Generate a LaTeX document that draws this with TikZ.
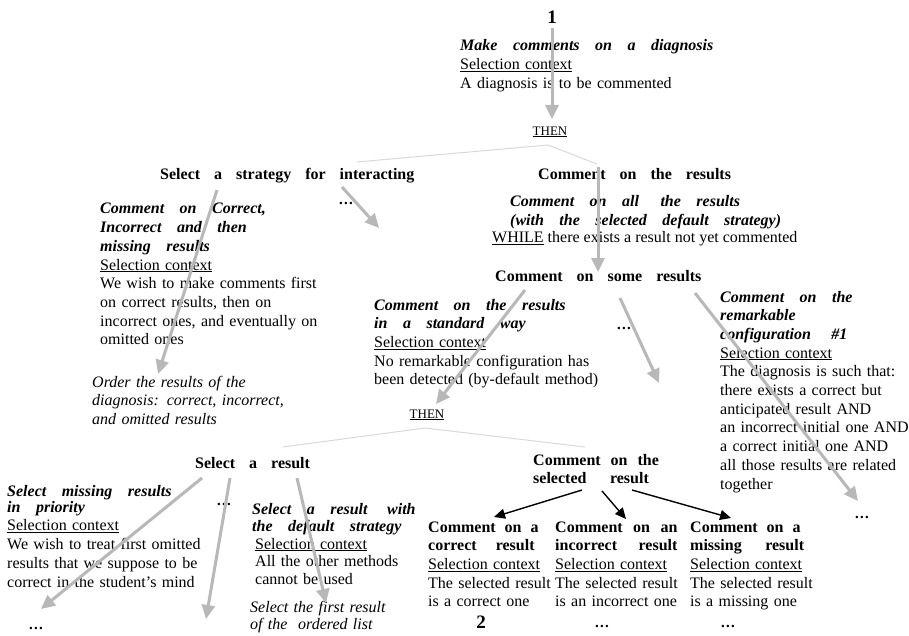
\documentclass[tikz,border=0pt]{standalone}
\usepackage{fontspec}
\setmainfont{Liberation Serif}
\usetikzlibrary{arrows.meta}
\newcommand\HB[1]{{\bfseries\spaceskip=14pt plus 2pt minus 1pt\relax #1}}
\newcommand\HI[1]{{\bfseries\itshape\spaceskip=15.5pt plus 2pt minus 1pt\relax #1}}
\newcommand\JB[2]{{\bfseries\spaceskip=#1\relax #2}}
\newcommand\SelC{\underline{Selection context}}
\newcommand\Dots{{\bfseries .\kern1.2pt.\kern1.2pt.}}
\tikzset{
  blk/.style={anchor=base west, inner sep=0pt, text width=330pt, align=left,
    font=\fontsize{16}{18.7}\selectfont},
  iblk/.style={blk, font=\fontsize{16}{17.5}\selectfont\itshape},
  one/.style={anchor=base west, inner sep=0pt, font=\fontsize{16}{18.5}\selectfont},
  dots/.style={inner sep=0pt, font=\fontsize{15}{18}\selectfont},
  thenlbl/.style={inner sep=0pt, font=\fontsize{13}{15}\selectfont},
  garrow/.style={draw=black!28, line width=3pt, -{Triangle[length=14pt,width=13pt]}},
  barrow/.style={draw=black, line width=1.4pt, -{Triangle[length=11pt,width=10pt]}},
  faint/.style={draw=black!15, line width=1pt},
}
\begin{document}
\begin{tikzpicture}[x=1pt,y=-1pt]
\useasboundingbox[fill=white] (0,0) rectangle (909,636);

% ---- top
\node[inner sep=0pt, font=\fontsize{19}{20}\selectfont\bfseries] (n1) at (552,17) {1};
\node[blk] (mk) at (460,51) {\HI{Make comments on a diagnosis}\\ \SelC\\ A diagnosis is to be commented};
\node[thenlbl] (then1) at (550,132) {\underline{THEN}};
\coordinate (then1b) at (548,145);
\coordinate (then1l) at (357,162);
\coordinate (then1r) at (597,164);

% ---- level 2
\node[one] (strat) at (160,180) {\HB{Select a strategy for interacting}};
\node[dots] (d1) at (346,203) {\Dots};
\node[one] (res) at (538,180) {\HB{Comment on the results}};

\node[blk] (corr) at (100,214) {\HI{Comment on Correct,}\\ \HI{Incorrect and then}\\ \HI{missing results}\\ \SelC\\
  We wish to make comments first\\ on correct results, then on\\ incorrect ones, and eventually on\\ omitted ones};
\node[iblk, font=\fontsize{16}{18.5}\selectfont\itshape] (order) at (92,387) {Order the results of the\\ diagnosis: correct, incorrect,\\ and omitted results};

\node[blk] (all) at (510,207) {\HI{Comment on all\hspace{6pt} the results}\\ \HI{(with the selected default strategy)}};
\node[one] (while) at (492,243) {\underline{WHILE} there exists a result not yet commented};
\node[one] (some) at (495,281) {\HB{Comment on some results}};

\node[blk] (std) at (374,310) {\HI{Comment on the results}\\ \HI{in a standard way}\\ \SelC\\ No remarkable configuration has\\ been detected (by-default method)};
\node[dots] (d2) at (624,328) {\Dots};
\node[blk] (rem) at (720,302) {\HI{Comment on the}\\ \HI{remarkable}\\ \HI{configuration\hspace{5pt} \#1}\\ \SelC\\
  The diagnosis is such that:\\ there exists a correct but\\ anticipated result AND\\ an incorrect initial one AND\\
  a correct initial one AND\\ all those results are related\\ together};
\node[dots] (d3) at (862,517) {\Dots};

\node[thenlbl] (then2) at (427,415) {\underline{THEN}};
\coordinate (then2b) at (425,428);
\coordinate (then2l) at (283,447);
\coordinate (then2r) at (585,447);

% ---- level 3
\node[one] (selres) at (195,468) {\HB{Select a result}};
\node[blk] (selcom) at (533,465) {\JB{10pt}{Comment on the}\\ \JB{23.5pt}{selected result}};

\node[blk] (miss) at (7,496) {\HI{Select missing results}\\[-2.5pt] \HI{in priority}\\ \SelC\\
  We wish to treat first omitted\\ results that we suppose to be\\ correct in the student's mind};
\node[dots] (d4) at (224,504) {\Dots};
\node[dots] (d5) at (36,628) {\Dots};
\node[blk, font=\fontsize{16}{17.5}\selectfont] (dflt) at (252,514) {\HI{Select a result\hspace{4pt} with}\\ \HI{the default strategy}\\ \hspace*{3pt}\SelC\\
  \hspace*{3pt}All the other methods\\ \hspace*{3pt}cannot be used};
\node[iblk] (first) at (250,612) {Select the first result\\ of the\ \ ordered list};

\node[blk] (cc) at (428,532) {\JB{9pt}{Comment on a}\\ \JB{19pt}{correct result}\\ \SelC\\ The selected result\\ is a correct one};
\node[blk] (ic) at (555,532) {\JB{10.5pt}{Comment on an}\\ \JB{21.5pt}{incorrect result}\\ \SelC\\ The selected result\\ is an incorrect one};
\node[blk] (mc) at (690,532) {\JB{9pt}{Comment on a}\\ \JB{23.5pt}{missing result}\\ \SelC\\ The selected result\\ is a missing one};
\node[inner sep=0pt, font=\fontsize{19}{20}\selectfont\bfseries] (n2) at (481,622) {2};
\node[dots] (d6) at (602,626) {\Dots};
\node[dots] (d7) at (728,626) {\Dots};

% ---- faint THEN lines
\draw[faint] (then1b) -- (then1l);
\draw[faint] (then1b) -- (then1r);
\draw[faint] (then2b) -- (then2l);
\draw[faint] (then2b) -- (then2r);

% ---- gray arrows
\coordinate (a0s) at (552,28);   \coordinate (a0e) at (552,119);
\coordinate (a1s) at (217,190);  \coordinate (a1e) at (158,374);
\coordinate (a2s) at (342,187);  \coordinate (a2e) at (379,228);
\coordinate (a3s) at (598,167);  \coordinate (a3e) at (598,272);
\coordinate (a4s) at (525,290);  \coordinate (a4e) at (436,404);
\coordinate (a5s) at (620,298);  \coordinate (a5e) at (659,383);
\coordinate (a6s) at (695,293);  \coordinate (a6e) at (858,501);
\coordinate (a7s) at (202,478);  \coordinate (a7e) at (41,609);
\coordinate (a8s) at (230,478);  \coordinate (a8e) at (206,619);
\coordinate (a9s) at (297,478);  \coordinate (a9e) at (326,603);
\foreach \i in {0,...,9} {\draw[garrow] (a\i s) -- (a\i e);}

% ---- black arrows
\coordinate (b1s) at (582,490); \coordinate (b1e) at (494,517);
\coordinate (b2s) at (602,491); \coordinate (b2e) at (626,519);
\coordinate (b3s) at (632,490); \coordinate (b3e) at (731,518);
\draw[barrow] (b1s) -- (b1e);
\draw[barrow] (b2s) -- (b2e);
\draw[barrow] (b3s) -- (b3e);
\end{tikzpicture}
\end{document}
